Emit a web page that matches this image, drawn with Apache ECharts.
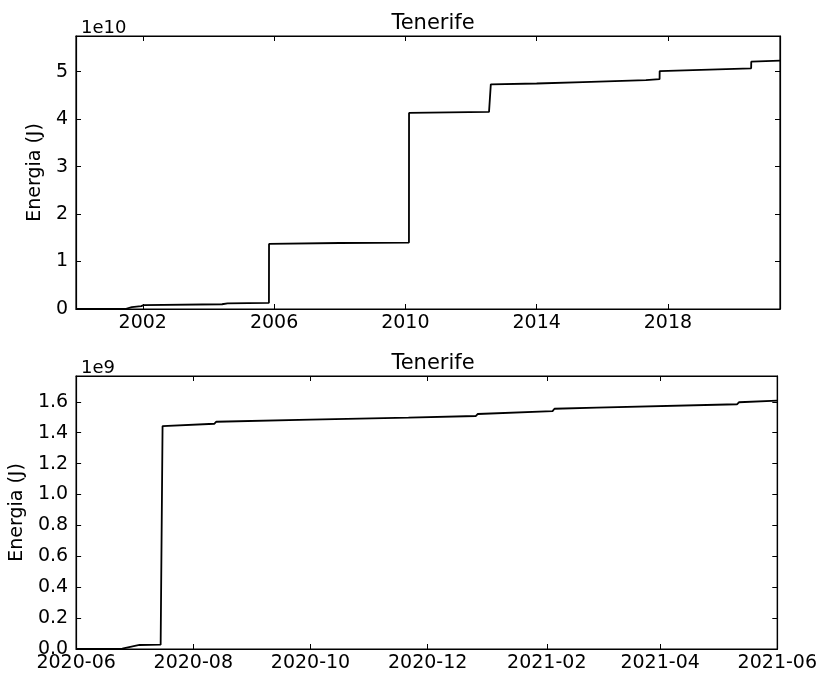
<!DOCTYPE html>
<html>
<head>
<meta charset="utf-8">
<script src="https://cdn.jsdelivr.net/npm/echarts@6/dist/echarts.min.js"></script>
<style>
html,body{margin:0;padding:0;background:#fff;}
#chart-area{width:820px;height:678px;}
</style>
</head>
<body>
<div id="chart-area"></div>
<script>
// datos serie larga (energia acumulada, J)
var topDates = ['1999-12-20','2001-06-20','2001-09-01','2001-12-15','2002-01-10','2004-06-01','2004-08-01','2005-11-05','2005-11-06','2008-01-01','2010-02-10','2010-02-11','2012-07-20','2012-08-08','2012-08-09','2014-01-01','2015-06-01','2017-05-01','2017-09-30','2017-10-01','2020-07-15','2020-07-16','2021-06-01'];
var topValues = [0,0,0.04e10,0.06e10,0.08e10,0.10e10,0.12e10,0.13e10,1.37e10,1.39e10,1.40e10,4.13e10,4.15e10,4.16e10,4.73e10,4.75e10,4.78e10,4.82e10,4.84e10,5.01e10,5.07e10,5.21e10,5.23e10];
var topTicks = ['2002-01-01','2006-01-01','2010-01-01','2014-01-01','2018-01-01'];

// datos ultimo año
var botDates = ['2020-06-01','2020-06-25','2020-07-04','2020-07-15','2020-07-16','2020-08-12','2020-08-13','2020-10-01','2020-11-21','2020-12-26','2020-12-27','2021-02-04','2021-02-05','2021-02-27','2021-02-28','2021-05-11','2021-05-12','2021-06-01'];
var botValues = [0,0.003e9,0.026e9,0.028e9,1.443e9,1.458e9,1.471e9,1.484e9,1.497e9,1.508e9,1.521e9,1.540e9,1.555e9,1.562e9,1.573e9,1.584e9,1.597e9,1.607e9];
var botTicks = ['2020-06-01','2020-08-01','2020-10-01','2020-12-01','2021-02-01','2021-04-01','2021-06-01'];

var titleText = 'Tenerife';
var yName = 'Energia (J)';

function ts(s){
	var p = s.split('-');
	return new Date(+p[0], +p[1]-1, +p[2]).getTime();
}
function pairs(d, v){
	var out = [];
	for (var i = 0; i < d.length; i++) out.push([ts(d[i]), v[i]]);
	return out;
}
function pad(n){ return (n < 10 ? '0' : '') + n; }

var font = 'DejaVu Sans';
var black = '#000';

// eje x en milisegundos, ticks puestos a mano en las fechas
function xAx(grid, min, max, ticks, fmt, top){
	return {
		type: 'value', gridIndex: grid, position: top ? 'top' : 'bottom',
		min: ts(min), max: ts(max), scale: true,
		axisLine: {show: true, onZero: false, lineStyle: {color: black, width: 1.2}},
		axisTick: {show: true, inside: true, length: 5, customValues: ticks.map(ts), lineStyle: {color: black}},
		axisLabel: {show: !top, customValues: ticks.map(ts), formatter: fmt, color: black, fontFamily: font, fontSize: 19, margin: 5, hideOverlap: false},
		splitLine: {show: false}
	};
}
function yAx(grid, max, step, fmt, right, gap){
	return {
		type: 'value', gridIndex: grid, position: right ? 'right' : 'left',
		min: 0, max: max, interval: step,
		name: right ? '' : yName, nameLocation: 'middle', nameGap: gap,
		nameTextStyle: {color: black, fontFamily: font, fontSize: 19},
		axisLine: {show: true, lineStyle: {color: black, width: 1.2}},
		axisTick: {show: true, inside: true, length: 5, lineStyle: {color: black}},
		axisLabel: {show: !right, formatter: fmt, color: black, fontFamily: font, fontSize: 19, margin: 8, showMaxLabel: false},
		splitLine: {show: false}
	};
}

var yearFmt = function(v){ return new Date(v).getFullYear() + ''; };
var monthFmt = function(v){ var d = new Date(v); return d.getFullYear() + '-' + pad(d.getMonth()+1); };

var myChart = echarts.init(document.getElementById('chart-area'));
var option = {
	backgroundColor: '#fff',
	animation: false,
	title: [
		{text: titleText, left: 428, top: 8, textAlign: 'center', textStyle: {fontFamily: font, fontSize: 21, fontWeight: 'normal', color: black}},
		{text: titleText, left: 428, top: 348, textAlign: 'center', textStyle: {fontFamily: font, fontSize: 21, fontWeight: 'normal', color: black}},
		{text: '1e10', left: 76, top: 14, textStyle: {fontFamily: font, fontSize: 18, fontWeight: 'normal', color: black}},
		{text: '1e9', left: 76, top: 354, textStyle: {fontFamily: font, fontSize: 18, fontWeight: 'normal', color: black}}
	],
	grid: [
		{left: 76, right: 40, top: 36, height: 273, show: true, borderColor: black, borderWidth: 1.2},
		{left: 76, right: 40, top: 376, height: 273, show: true, borderColor: black, borderWidth: 1.2}
	],
	xAxis: [
		xAx(0, '1999-12-20', '2021-06-01', topTicks, yearFmt, false),
		xAx(0, '1999-12-20', '2021-06-01', topTicks, yearFmt, true),
		xAx(1, '2020-06-01', '2021-06-01', botTicks, monthFmt, false),
		xAx(1, '2020-06-01', '2021-06-01', botTicks, monthFmt, true)
	],
	yAxis: [
		yAx(0, 5.75e10, 1e10, function(v){ return Math.round(v/1e10) + ''; }, false, 30),
		yAx(0, 5.75e10, 1e10, null, true, 0),
		yAx(1, 1.767e9, 0.2e9, function(v){ return (v/1e9).toFixed(1); }, false, 48),
		yAx(1, 1.767e9, 0.2e9, null, true, 0)
	],
	series: [
		{type: 'line', xAxisIndex: 0, yAxisIndex: 0, data: pairs(topDates, topValues), showSymbol: false, lineStyle: {color: black, width: 1.8}},
		{type: 'line', xAxisIndex: 2, yAxisIndex: 2, data: pairs(botDates, botValues), showSymbol: false, lineStyle: {color: black, width: 1.8}}
	]
};
myChart.setOption(option);
</script>
</body>
</html>
